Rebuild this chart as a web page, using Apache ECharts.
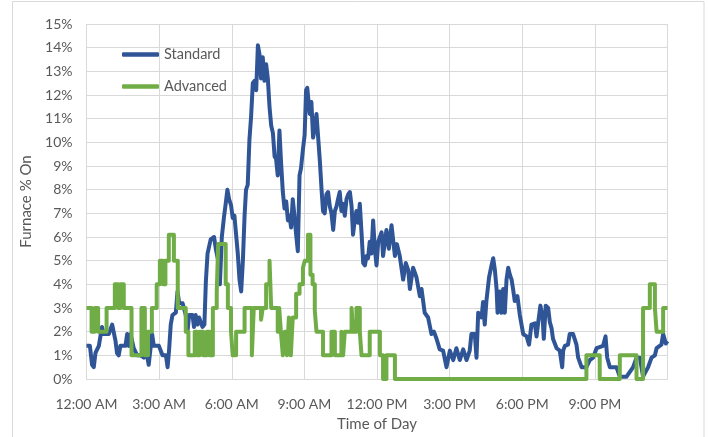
<!DOCTYPE html>
<html>
<head>
<meta charset="utf-8">
<script src="https://cdn.jsdelivr.net/npm/echarts@6/dist/echarts.min.js"></script>
<style>html,body{margin:0;padding:0;background:#fff;}#c{width:709px;height:437px;}</style>
</head>
<body>
<div id="c"></div>
<script>
// Time of day in hours since midnight
const stdHours = [0.00,0.14,0.23,0.30,0.37,0.51,0.64,0.71,0.92,1.06,1.20,1.26,1.33,1.40,1.61,1.68,1.75,1.82,1.95,2.09,2.23,2.37,2.50,2.57,2.71,2.78,2.99,3.07,3.14,3.28,3.35,3.41,3.48,3.55,3.69,3.76,3.83,3.97,4.10,4.17,4.24,4.38,4.44,4.51,4.59,4.65,4.79,4.87,4.93,5.00,5.13,5.27,5.34,5.44,5.51,5.59,5.68,5.75,5.82,5.89,5.97,6.04,6.11,6.18,6.25,6.32,6.39,6.46,6.53,6.59,6.66,6.73,6.80,6.87,6.94,7.01,7.08,7.15,7.21,7.28,7.35,7.42,7.49,7.56,7.63,7.70,7.77,7.83,7.90,7.97,8.04,8.11,8.18,8.25,8.32,8.39,8.45,8.52,8.59,8.66,8.73,8.80,8.86,8.94,9.01,9.07,9.12,9.22,9.29,9.36,9.43,9.50,9.57,9.64,9.71,9.77,9.84,9.91,9.98,10.05,10.12,10.19,10.26,10.33,10.39,10.46,10.53,10.60,10.67,10.74,10.81,10.88,10.95,11.01,11.08,11.15,11.22,11.29,11.36,11.43,11.50,11.57,11.63,11.70,11.77,11.84,11.91,11.98,12.05,12.19,12.25,12.39,12.49,12.60,12.74,12.82,12.94,13.08,13.19,13.29,13.36,13.49,13.63,13.77,13.84,13.97,14.11,14.25,14.35,14.46,14.59,14.73,14.87,15.01,15.15,15.28,15.42,15.56,15.70,15.83,15.90,16.04,16.11,16.18,16.32,16.38,16.45,16.52,16.63,16.73,16.80,16.87,16.94,16.98,17.07,17.14,17.21,17.28,17.35,17.42,17.49,17.56,17.62,17.69,17.80,17.90,18.04,18.18,18.28,18.38,18.52,18.59,18.66,18.75,18.84,18.89,18.97,19.07,19.14,19.21,19.27,19.42,19.55,19.65,19.69,19.76,19.89,19.96,20.10,20.24,20.31,20.45,20.65,20.79,20.93,21.07,21.34,21.44,21.51,21.62,21.89,22.03,22.31,22.58,22.72,22.86,22.99,23.20,23.34,23.48,23.55,23.75,23.82,23.93,24.00];
// Standard furnace % on
const stdValues = [1.4,1.4,0.6,0.5,1.1,1.4,2.2,1.9,1.9,2.3,1.6,1.1,1.0,1.4,1.4,1.9,1.4,1.9,1.3,1.0,1.0,0.9,1.0,0.6,1.9,1.4,1.4,1.4,1.0,1.0,0.5,1.2,2.3,2.7,2.8,3.7,3.2,3.2,2.7,2.0,2.7,2.7,2.2,2.7,2.3,2.6,2.2,2.3,4.1,5.3,5.9,6.0,5.5,5.0,4.0,6.0,6.85,7.4,8.0,7.6,7.35,6.8,6.9,6.1,5.3,4.2,3.7,5.0,6.9,8.0,8.2,10.1,11.1,12.5,12.6,12.2,14.1,13.7,12.7,13.6,12.6,13.3,12.7,11.5,10.7,10.4,9.4,9.3,8.6,10.5,9.1,7.9,7.2,7.5,6.7,6.9,6.4,7.6,6.9,6.1,5.4,8.6,8.9,9.7,10.3,12.2,12.3,11.2,11.7,10.2,10.6,11.2,10.2,9.2,8.0,7.1,7.0,7.8,7.9,7.3,7.0,6.3,7.1,7.3,7.6,7.9,7.1,7.4,6.9,7.6,7.8,7.9,7.3,6.1,6.7,7.1,6.6,7.4,6.2,4.9,4.8,5.2,5.1,5.8,5.3,6.7,5.5,4.8,5.8,6.2,5.2,6.3,5.5,6.5,5.2,5.7,5.2,4.2,4.9,4.6,3.8,4.7,4.3,3.5,3.8,2.8,2.6,1.9,2.0,1.7,1.25,1.2,0.5,1.2,0.8,1.3,0.8,1.25,0.8,1.2,1.9,1.9,0.9,2.8,2.6,3.25,2.3,3.3,4.3,4.8,5.1,4.6,3.8,2.8,3.7,2.8,3.8,2.8,4.2,4.7,4.4,4.2,3.8,3.3,3.5,2.7,1.9,1.8,1.45,2.3,2.35,1.8,2.4,3.1,2.6,1.7,3.1,3.0,2.4,2.15,1.7,1.3,1.2,0.5,1.2,1.4,1.45,1.9,1.9,1.45,0.9,0.5,0.5,0.8,0.9,1.3,1.4,1.8,0.9,0.5,0.5,0.1,0.1,0.5,0.9,0.9,0.1,0.5,0.9,1.0,1.3,1.45,1.9,1.5,1.6];
// Advanced: value holds from each time until the next
const advHours = [0.00,0.21,0.34,0.48,0.83,1.17,1.31,1.40,1.54,1.86,2.27,2.41,2.54,2.70,2.90,3.03,3.17,3.26,3.40,3.61,3.77,4.10,4.21,4.47,4.56,4.68,4.82,4.97,5.09,5.22,5.38,5.44,5.75,5.84,5.97,6.04,6.18,6.53,6.83,6.91,7.21,7.28,7.42,7.56,7.63,7.90,7.96,8.03,8.11,8.19,8.28,8.36,8.44,8.52,8.66,8.80,8.94,9.02,9.15,9.25,9.34,9.43,9.50,9.77,10.12,10.26,10.53,10.60,10.67,10.95,11.01,11.15,11.29,11.36,11.70,12.12,12.25,12.39,12.74,20.65,21.20,22.03,22.72,22.99,23.27,23.48,23.55,23.82,24.00];
const advValues = [3,2,3,2,3,4,3,4,3,1,3,1,2,3,4,5,4,5,6.1,5,3,2,1,2,1,2,1,2,1,3,3.7,5.7,4,3,2,1,2,3,1,3,2.5,3,4,5,3,2,3,2,1,2,1,2.6,1,2.6,3.6,4,4.7,5,6.1,4.4,4,2.9,2,1,2,1,2,1,2,3,2,3,2,1,2,1,0,1,0,1,0,1,0,3,4,3,2,3,3];
const xTickLabels = ['12:00 AM','3:00 AM','6:00 AM','9:00 AM','12:00 PM','3:00 PM','6:00 PM','9:00 PM'];

const stdData = stdHours.map((h, i) => [h, stdValues[i]]);
const advData = advHours.map((h, i) => [h, advValues[i]]);

const FONT = 'Lato';
const GREY = '#595959';
const chart = echarts.init(document.getElementById('c'), null, {renderer: 'canvas'});
chart.setOption({
  backgroundColor: '#ffffff',
  animation: false,
  textStyle: {fontFamily: FONT},
  graphic: [{
    type: 'rect', silent: true,
    shape: {x: 12.5, y: 1.5, width: 691.5, height: 450},
    style: {fill: 'none', stroke: '#D9D9D9', lineWidth: 1}
  }],
  grid: {left: 86.5, right: 41.5, top: 24, bottom: 52, containLabel: false},
  legend: {
    orient: 'vertical', left: 117, top: 41,
    icon: 'roundRect', itemWidth: 37, itemHeight: 4.5, itemGap: 15,
    textStyle: {fontFamily: FONT, fontSize: 14.5, color: GREY, lineHeight: 17},
    data: ['Standard', 'Advanced']
  },
  xAxis: {
    type: 'value', min: 0, max: 24, interval: 3,
    name: 'Time of Day', nameLocation: 'middle', nameGap: 38,
    nameTextStyle: {fontFamily: FONT, fontSize: 15, color: GREY},
    axisLine: {show: true, lineStyle: {color: '#D9D9D9', width: 1}},
    axisTick: {show: false},
    axisLabel: {
      margin: 18, fontFamily: FONT, fontSize: 14, color: GREY,
      formatter: v => (v < 24 ? xTickLabels[Math.round(v / 3)] : '')
    },
    splitLine: {show: true, lineStyle: {color: '#D9D9D9', width: 1}}
  },
  yAxis: {
    type: 'value', min: 0, max: 15, interval: 1,
    name: 'Furnace % On', nameLocation: 'middle', nameGap: 51,
    nameTextStyle: {fontFamily: FONT, fontSize: 15, color: GREY},
    axisLine: {show: false},
    axisTick: {show: false},
    axisLabel: {margin: 14, fontFamily: FONT, fontSize: 14, color: GREY, formatter: '{value}%'},
    splitLine: {show: true, lineStyle: {color: '#D9D9D9', width: 1}}
  },
  series: [
    {
      name: 'Standard', type: 'line', data: stdData, showSymbol: false, clip: false,
      itemStyle: {color: '#2F5597'},
      lineStyle: {color: '#2F5597', width: 4, join: 'round'}
    },
    {
      name: 'Advanced', type: 'line', data: advData, step: 'end', showSymbol: false, clip: false,
      itemStyle: {color: '#70AD47'},
      lineStyle: {color: '#70AD47', width: 4, join: 'round'}
    }
  ]
});
</script>
</body>
</html>
